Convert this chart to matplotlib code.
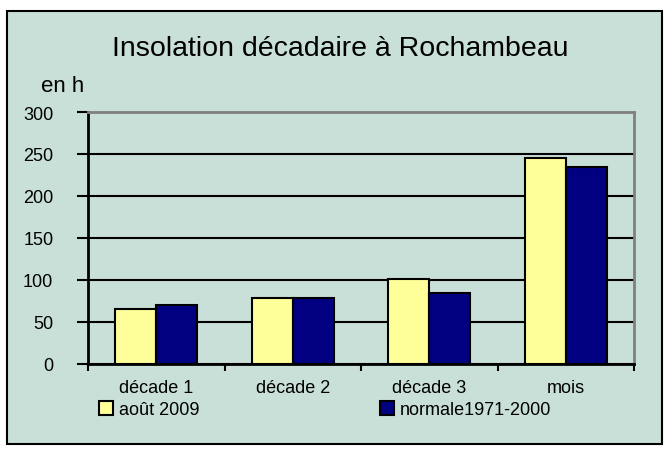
import matplotlib.pyplot as plt
from matplotlib.patches import Rectangle
import numpy as np

plt.rcParams['font.family'] = ['Liberation Sans', 'DejaVu Sans']

categories = ["décade 1", "décade 2", "décade 3", "mois"]
aout_2009 = [65, 79, 101, 245]
normale = [70, 79, 85, 234]
y_ticks = [0, 50, 100, 150, 200, 250, 300]

bg = "#C9E0D8"
fig = plt.figure(figsize=(6.64, 4.52), dpi=100)
fig.patch.set_facecolor("white")

# outer chart frame, behind the axes
frame = Rectangle((7 / 664, 1 - 445 / 452), 655 / 664, 433 / 452,
                  transform=fig.transFigure, facecolor=bg,
                  edgecolor="black", linewidth=1.5, zorder=-1)
fig.add_artist(frame)

ax = fig.add_axes([88 / 664, 1 - 365 / 452, 546 / 664, 252 / 452])
ax.set_facecolor(bg)

x = np.arange(len(categories))
w = 0.3
ax.bar(x - w / 2, aout_2009, w, color="#FFFF99", edgecolor="black",
       linewidth=1.5, label="août 2009", zorder=3)
ax.bar(x + w / 2, normale, w, color="#000080", edgecolor="black",
       linewidth=1.5, label="normale1971-2000", zorder=3)

ax.set_xlim(-0.5, len(categories) - 0.5)
ax.set_ylim(0, 300)
ax.set_yticks(y_ticks)
ax.set_yticklabels([str(t) for t in y_ticks], fontsize=13)
ax.yaxis.grid(True, color="black", linewidth=1.5, zorder=0)
ax.set_axisbelow(True)

# category labels centred, ticks on boundaries
ax.set_xticks(np.arange(-0.5, len(categories), 1.0))
ax.set_xticklabels([])
ax.set_xticks(x, minor=True)
ax.set_xticklabels(categories, minor=True, fontsize=13)
ax.tick_params(axis="x", which="minor", length=0, pad=11)
ax.tick_params(axis="x", which="major", length=5, width=1.5, direction="out")
ax.tick_params(axis="y", length=8, width=1.5, direction="out", pad=17)

for s in ["left", "bottom"]:
    ax.spines[s].set_color("black")
    ax.spines[s].set_linewidth(2)
for s in ["top", "right"]:
    ax.spines[s].set_color("#808080")
    ax.spines[s].set_linewidth(2)

fig.text(340 / 664, 1 - 49 / 452, "Insolation décadaire à Rochambeau",
         ha="center", va="center", fontsize=20.5)
fig.text(41 / 664, 1 - 86 / 452, "en h", ha="left", va="center", fontsize=16)

ax.legend(loc="center left", bbox_to_anchor=(0.02, -0.18), ncol=2, frameon=False,
          fontsize=13, handlelength=0.8, handleheight=0.8, handletextpad=0.3,
          columnspacing=10, borderaxespad=0, borderpad=0)

fig.savefig("out.png", dpi=100, facecolor="white")
